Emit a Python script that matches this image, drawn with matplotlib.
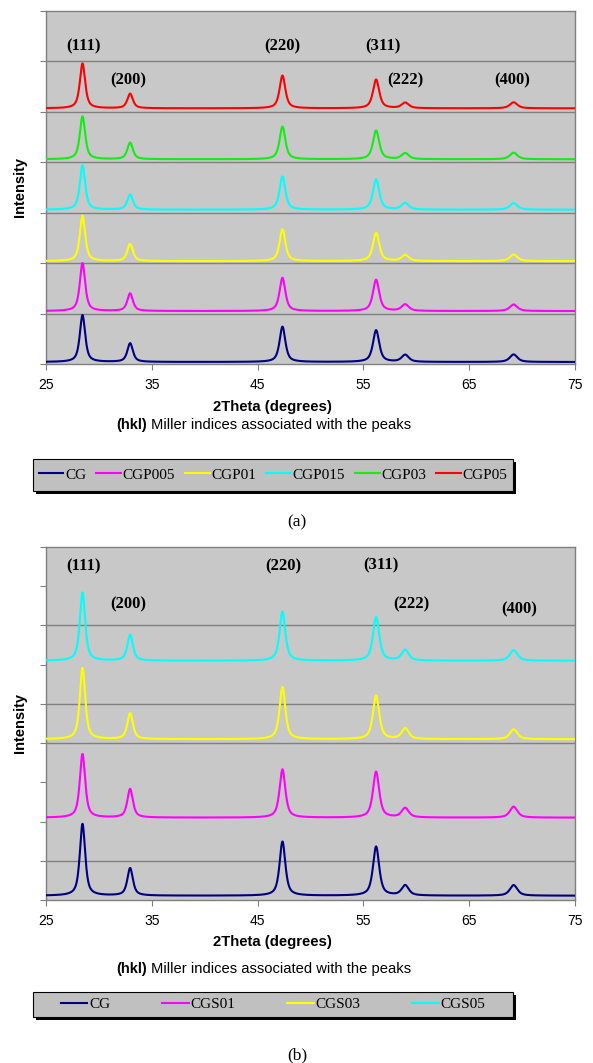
import numpy as np
import matplotlib
matplotlib.use('Agg')
import matplotlib.pyplot as plt
from matplotlib.patches import Rectangle
from matplotlib.lines import Line2D

W, H = 593, 1063

# peak positions (2theta, degrees) and Miller indices
peak_pos = [28.45, 32.95, 47.35, 56.2, 58.95, 69.2]
peak_fwhm = [0.6, 0.62, 0.65, 0.7, 0.8, 0.85]
hkl = ['(111)', '(200)', '(220)', '(311)', '(222)', '(400)']

# panel (a): samples, colours, baseline level and peak heights (stack units)
names_a = ['CG', 'CGP005', 'CGP01', 'CGP015', 'CGP03', 'CGP05']
colors_a = ['#000080', '#ff00ff', '#ffff00', '#00ffff', '#11ee11', '#ff0000']
base_a = [0.04, 1.05, 2.04, 3.06, 4.06, 5.07]
heights_a = [
    [0.93, 0.37, 0.70, 0.63, 0.14, 0.15],
    [0.95, 0.35, 0.66, 0.62, 0.13, 0.13],
    [0.90, 0.34, 0.63, 0.56, 0.12, 0.13],
    [0.88, 0.30, 0.66, 0.60, 0.13, 0.13],
    [0.85, 0.33, 0.65, 0.57, 0.12, 0.13],
    [0.89, 0.29, 0.65, 0.57, 0.11, 0.12],
]
hkl_x_a = [28.5, 32.8, 47.3, 56.8, 59.0, 69.1]
hkl_y_a = [6.30, 5.62, 6.30, 6.30, 5.62, 5.62]

# panel (b)
names_b = ['CG', 'CGS01', 'CGS03', 'CGS05']
colors_b = ['#000080', '#ff00ff', '#ffff00', '#00ffff']
base_b = [0.11, 2.1, 4.1, 6.1]
heights_b = [
    [1.83, 0.70, 1.38, 1.25, 0.26, 0.27],
    [1.62, 0.73, 1.23, 1.17, 0.24, 0.28],
    [1.82, 0.66, 1.33, 1.11, 0.27, 0.25],
    [1.74, 0.66, 1.25, 1.11, 0.27, 0.27],
]
hkl_x_b = [28.5, 32.8, 47.45, 56.7, 59.5, 69.75]
hkl_y_b = [8.50, 7.54, 8.50, 8.52, 7.54, 7.42]
grid_b = [1, 4, 5, 7]

xticks = [25, 35, 45, 55, 65, 75]


def pattern(x, base, heights, eta=0.7):
    # pseudo-Voigt peaks at the tabulated positions
    y = np.full_like(x, base)
    for p, w, h in zip(peak_pos, peak_fwhm, heights):
        g = np.exp(-4 * np.log(2) * ((x - p) / w) ** 2)
        lo = 1 / (1 + 4 * ((x - p) / w) ** 2)
        y += h * (eta * lo + (1 - eta) * g)
    return y


x = np.linspace(25, 75, 2501)
gray = '#808080'
bg = '#c8c8c8'
sans = 'Liberation Sans'
serif = 'Liberation Serif'

fig = plt.figure(figsize=(W / 100, H / 100), dpi=100)


def px(v):
    return v / W


def py(v):
    return 1 - v / H


def setup(ax, ymax, grid):
    ax.set_facecolor(bg)
    ax.set_xlim(25, 75)
    ax.set_ylim(0, ymax)
    ax.set_xticks(xticks)
    ax.set_yticks(range(ymax + 1))
    ax.set_yticklabels([])
    for s in ax.spines.values():
        s.set_color(gray)
        s.set_linewidth(1)
    ax.tick_params(axis='x', colors=gray, length=4, pad=6, labelcolor='black',
                   labelsize=10)
    ax.tick_params(axis='y', colors=gray, length=4)
    for t in ax.get_xticklabels():
        t.set_fontfamily(sans)
    for g in grid:
        ax.axhline(g, color=gray, lw=1, zorder=1)


def panel(ax, names, colors, bases, heights, hx, hy, ymax, grid):
    setup(ax, ymax, grid)
    for n, c, b, h in zip(names, colors, bases, heights):
        ax.plot(x, pattern(x, b, h), color=c, lw=1.5, label=n, zorder=3)
    for t, xx, yy in zip(hkl, hx, hy):
        ax.text(xx, yy, t, ha='center', va='center', fontsize=12,
                fontweight='bold', fontfamily=serif, zorder=4)


def legend_box(names, colors, top, bottom, colspace, hlen):
    x0, x1 = 33, 513
    fig.patches.append(Rectangle((px(x0 + 3), py(bottom + 3)), px(x1 - x0),
                                 (bottom - top) / H, transform=fig.transFigure,
                                 facecolor='black', edgecolor='none', zorder=1))
    fig.patches.append(Rectangle((px(x0), py(bottom)), px(x1 - x0),
                                 (bottom - top) / H, transform=fig.transFigure,
                                 facecolor='#c0c0c0', edgecolor='black', lw=0.8,
                                 zorder=2))
    handles = [Line2D([], [], color=c, lw=1.5) for c in colors]
    leg = fig.legend(handles, names, ncol=len(names), loc='center',
                     bbox_to_anchor=(px((x0 + x1) / 2), py((top + bottom) / 2)),
                     frameon=False, handlelength=hlen, handletextpad=0.1,
                     columnspacing=colspace, borderpad=0,
                     prop={'family': serif, 'size': 11})
    leg.set_zorder(3)


ax_a = fig.add_axes([px(46), py(364), px(529), 353 / H])
panel(ax_a, names_a, colors_a, base_a, heights_a, hkl_x_a, hkl_y_a, 7,
      range(1, 7))
ax_b = fig.add_axes([px(46), py(900), px(529), 353 / H])
panel(ax_b, names_b, colors_b, base_b, heights_b, hkl_x_b, hkl_y_b, 9, grid_b)

for mid in [187, 723]:
    fig.text(px(20), py(mid), 'Intensity', rotation=90, ha='center',
             va='center', fontsize=10.5, fontweight='bold', fontfamily=sans)

for y0, y1 in [(407, 425), (942, 969)]:
    fig.text(px(272.5), py(y0), '2Theta (degrees)', ha='center', va='center',
             fontsize=10.7, fontweight='bold', fontfamily=sans)
    fig.text(px(147), py(y1), '(hkl)', ha='right', va='center',
             fontsize=10.6, fontweight='bold', fontfamily=sans)
    fig.text(px(151), py(y1), 'Miller indices associated with the peaks',
             ha='left', va='center', fontsize=10.6, fontfamily=sans)

legend_box(names_a, colors_a, 459, 491, 0.65, 1.63)
legend_box(names_b, colors_b, 992, 1017, 3.4, 1.75)

fig.text(px(297), py(522), '(a)', ha='center', va='center', fontsize=12.5,
         fontfamily=serif)
fig.text(px(297), py(1055), '(b)', ha='center', va='center', fontsize=12.5,
         fontfamily=serif)

fig.savefig('out.png', dpi=100)
